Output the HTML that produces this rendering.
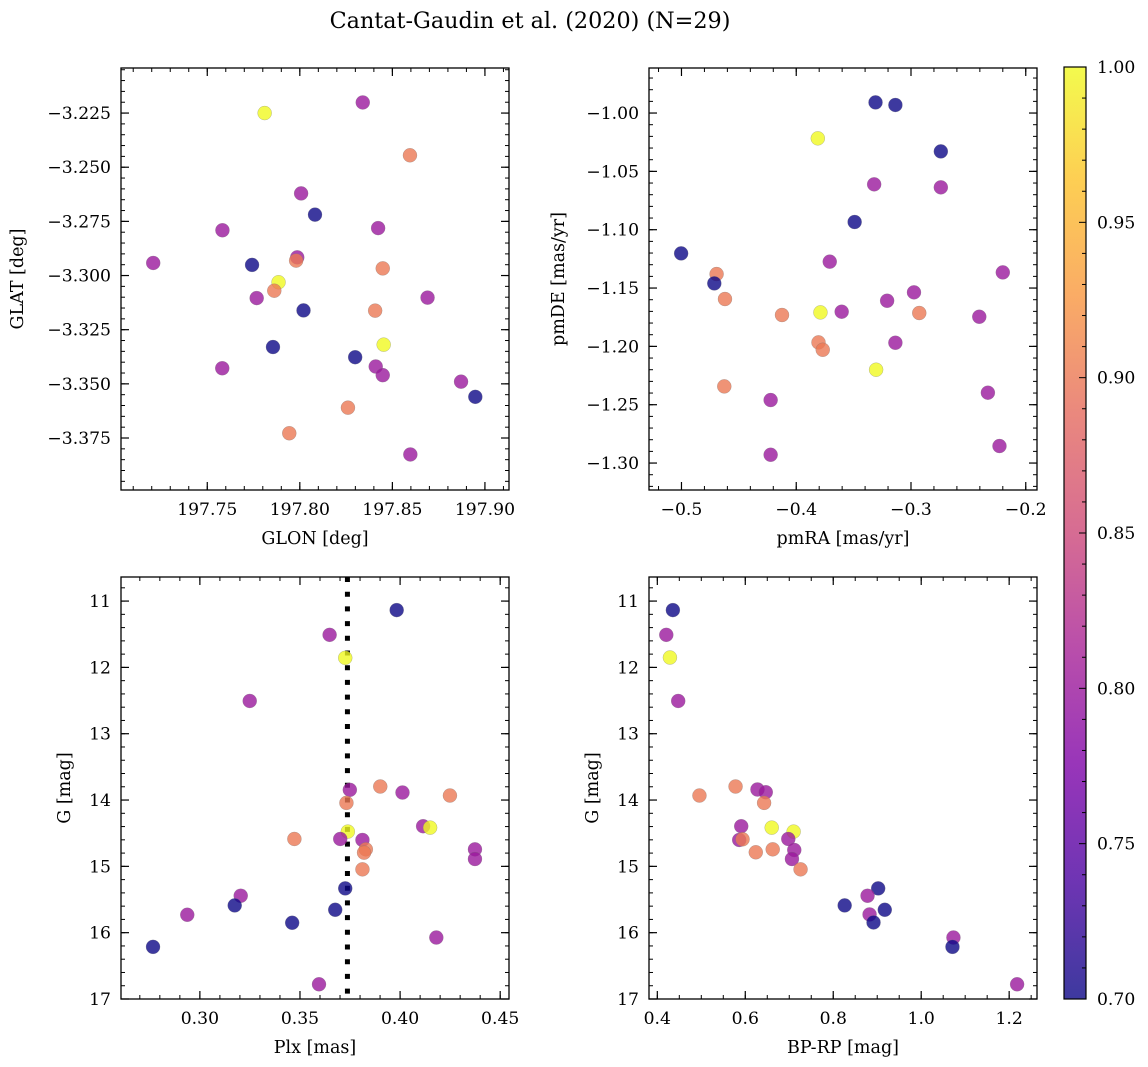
<!DOCTYPE html>
<html><head><meta charset="utf-8">
<style>
html,body{margin:0;padding:0;background:#fff;}
svg{display:block;font-family:"DejaVu Serif","Liberation Serif",serif;}
</style></head>
<body>
<svg id="fig" width="1148" height="1067" viewBox="0 0 1148 1067" xmlns="http://www.w3.org/2000/svg">
<rect x="0" y="0" width="1148" height="1067" fill="#fff"/>
<text x="530" y="28" text-anchor="middle" font-size="22.3">Cantat-Gaudin et al. (2020) (N=29)</text>
<defs>
<linearGradient id="cbgrad" x1="0" y1="1" x2="0" y2="0">
<stop offset="0" stop-color="#0d0887"/>
<stop offset="0.13" stop-color="#4c02a1"/>
<stop offset="0.25" stop-color="#7e03a8"/>
<stop offset="0.38" stop-color="#a92395"/>
<stop offset="0.5" stop-color="#cc4778"/>
<stop offset="0.63" stop-color="#e56b5d"/>
<stop offset="0.75" stop-color="#f89540"/>
<stop offset="0.88" stop-color="#fdc328"/>
<stop offset="1" stop-color="#f0f921"/>
</linearGradient>
</defs>
<g id="plots"></g>
</svg>
<script>
// ---- Panel 1: GLON vs GLAT ----
const p1Glon = [197.781,197.834,197.8595,197.8007,197.8082,197.7582,197.8423,197.7208,197.7742,197.7986,197.798,197.8448,197.7885,197.7862,197.7767,197.869,197.802,197.8407,197.7855,197.8453,197.8299,197.7581,197.841,197.8448,197.8871,197.8948,197.826,197.7943,197.8597];
const p1Glat = [-3.225,-3.2201,-3.2445,-3.2621,-3.2719,-3.2791,-3.2781,-3.2942,-3.2951,-3.2916,-3.2931,-3.2967,-3.3031,-3.307,-3.3104,-3.3102,-3.3161,-3.3162,-3.333,-3.3319,-3.3377,-3.3428,-3.342,-3.346,-3.349,-3.356,-3.361,-3.3728,-3.3826];
const p1Prob = [1.0,0.8,0.9,0.8,0.7,0.8,0.8,0.8,0.7,0.8,0.9,0.9,1.0,0.9,0.8,0.8,0.7,0.9,0.7,1.0,0.7,0.8,0.8,0.8,0.8,0.7,0.9,0.9,0.8];
const p1XTicks = [197.75,197.80,197.85,197.90];
const p1YTicks = [-3.225,-3.250,-3.275,-3.300,-3.325,-3.350,-3.375];
// ---- Panel 2: pmRA vs pmDE ----
const p2PmRA = [-0.3309,-0.3136,-0.3812,-0.274,-0.3321,-0.274,-0.3491,-0.5003,-0.3708,-0.22,-0.4694,-0.4714,-0.4621,-0.2974,-0.3208,-0.4124,-0.3789,-0.3604,-0.2928,-0.2405,-0.3806,-0.3769,-0.3136,-0.3304,-0.4627,-0.4223,-0.233,-0.2229,-0.4223];
const p2PmDE = [-0.9909,-0.9931,-1.0217,-1.0329,-1.0611,-1.0637,-1.0934,-1.1203,-1.1274,-1.1366,-1.138,-1.146,-1.1594,-1.1537,-1.1609,-1.1731,-1.1709,-1.1703,-1.1714,-1.1746,-1.1966,-1.2029,-1.1969,-1.22,-1.2343,-1.246,-1.2397,-1.2854,-1.2929];
const p2Prob = [0.7,0.7,1.0,0.7,0.8,0.8,0.7,0.7,0.8,0.8,0.9,0.7,0.9,0.8,0.8,0.9,1.0,0.8,0.9,0.8,0.9,0.9,0.8,1.0,0.9,0.8,0.8,0.8,0.8];
const p2XTicks = [-0.5,-0.4,-0.3,-0.2];
const p2YTicks = [-1.00,-1.05,-1.10,-1.15,-1.20,-1.25,-1.30];
// ---- Panel 3: Plx vs G ----
const p3Plx = [0.3983,0.3648,0.3726,0.3249,0.3749,0.3901,0.4012,0.4249,0.3732,0.4115,0.415,0.3739,0.3472,0.3701,0.3812,0.3829,0.382,0.4374,0.4374,0.3812,0.3726,0.3204,0.3174,0.3676,0.2937,0.3461,0.4181,0.2766,0.3595];
const p3G = [11.136,11.509,11.856,12.506,13.846,13.796,13.887,13.932,14.043,14.395,14.416,14.476,14.587,14.587,14.602,14.743,14.793,14.743,14.889,15.045,15.332,15.443,15.589,15.655,15.73,15.851,16.073,16.214,16.778];
const p3Prob = [0.7,0.8,1.0,0.8,0.8,0.9,0.8,0.9,0.9,0.8,1.0,1.0,0.9,0.8,0.8,0.9,0.9,0.8,0.8,0.9,0.7,0.8,0.7,0.7,0.8,0.7,0.8,0.7,0.8];
const p3XTicks = [0.30,0.35,0.40,0.45];
const p3YTicks = [11,12,13,14,15,16,17];
const p3PlxMean = [0.3737];
// ---- Panel 4: BP-RP vs G ----
const p4Color = [0.4354,0.4204,0.4287,0.4475,0.4958,0.5779,0.6277,0.6466,0.6428,0.5908,0.6601,0.7099,0.5862,0.5938,0.6978,0.6239,0.6624,0.7114,0.7061,0.7257,0.9022,0.878,0.826,0.9172,0.8826,0.8916,1.0733,1.0711,1.2181];
const p4G = [11.136,11.509,11.851,12.506,13.932,13.796,13.841,13.882,14.043,14.395,14.416,14.476,14.602,14.592,14.587,14.788,14.743,14.753,14.889,15.045,15.332,15.443,15.589,15.655,15.725,15.846,16.073,16.214,16.778];
const p4Prob = [0.7,0.8,1.0,0.8,0.9,0.9,0.8,0.8,0.9,0.8,1.0,1.0,0.8,0.9,0.8,0.9,0.9,0.8,0.8,0.9,0.7,0.8,0.7,0.7,0.8,0.7,0.8,0.7,0.8];
const p4XTicks = [0.4,0.6,0.8,1.0,1.2];
const p4YTicks = [11,12,13,14,15,16,17];
// ---- Colorbar ----
const cbTicks = [0.70,0.75,0.80,0.85,0.90,0.95,1.00];

const NS = "http://www.w3.org/2000/svg";
const root = document.getElementById('plots');
function mk(tag, attrs, parent){
  const e = document.createElementNS(NS, tag);
  for (const k in attrs) e.setAttribute(k, attrs[k]);
  (parent||root).appendChild(e);
  return e;
}
const stops = [[0,[13,8,135]],[0.13,[76,2,161]],[0.25,[126,3,168]],[0.38,[169,35,149]],[0.5,[204,71,120]],[0.63,[229,107,93]],[0.75,[248,149,64]],[0.88,[253,195,40]],[1,[240,249,33]]];
function plasma(t){
  t=Math.max(0,Math.min(1,t));
  for(let i=1;i<stops.length;i++){
    if(t<=stops[i][0]){
      const a=stops[i-1],b=stops[i],f=(t-a[0])/(b[0]-a[0]);
      const c=a[1].map((v,j)=>Math.round(v+(b[1][j]-v)*f));
      return 'rgb('+c.join(',')+')';
    }
  }
  return 'rgb(240,249,33)';
}
function fmtMinus(s){ return s.replace('-', '\u2212'); }
const TICKFS = 17.2, LABFS = 17.5;

function panel(o){
  const g = mk('g', {});
  
  
  const L=o.box[0],T=o.box[1],R=o.box[2],B=o.box[3];
  const sx = v => L + (v-o.xr[0])/(o.xr[1]-o.xr[0])*(R-L);
  const sy = o.yinv ? (v => T + (v-o.yr[0])/(o.yr[1]-o.yr[0])*(B-T)) : (v => B - (v-o.yr[0])/(o.yr[1]-o.yr[0])*(B-T));
  const mxStart = Math.ceil(o.xr[0]/o.xminor - 1e-9);
  for(let k=mxStart; k*o.xminor<=o.xr[1]+1e-9; k++){
    const x=sx(k*o.xminor);
    mk('line',{x1:x,y1:B,x2:x,y2:B-4,stroke:'#000','stroke-width':1},g);
    mk('line',{x1:x,y1:T,x2:x,y2:T+4,stroke:'#000','stroke-width':1},g);
  }
  const lo=Math.min(o.yr[0],o.yr[1]),hi=Math.max(o.yr[0],o.yr[1]);
  for(let k=Math.ceil(lo/o.yminor-1e-9); k*o.yminor<=hi+1e-9; k++){
    const y=sy(k*o.yminor);
    mk('line',{x1:L,y1:y,x2:L+4,y2:y,stroke:'#000','stroke-width':1},g);
    mk('line',{x1:R,y1:y,x2:R-4,y2:y,stroke:'#000','stroke-width':1},g);
  }
  o.xt.forEach(v=>{
    const x=sx(v);
    mk('line',{x1:x,y1:B,x2:x,y2:B-8,stroke:'#000','stroke-width':1.2},g);
    mk('line',{x1:x,y1:T,x2:x,y2:T+8,stroke:'#000','stroke-width':1.2},g);
    const t=mk('text',{x:x,y:B+25,'text-anchor':'middle','font-size':TICKFS},g);
    
    
    t.textContent=fmtMinus(v.toFixed(o.xdec));
  });
  o.yt.forEach(v=>{
    const y=sy(v);
    mk('line',{x1:L,y1:y,x2:L+8,y2:y,stroke:'#000','stroke-width':1.2},g);
    mk('line',{x1:R,y1:y,x2:R-8,y2:y,stroke:'#000','stroke-width':1.2},g);
    const t=mk('text',{x:L-10,y:y+6,'text-anchor':'end','font-size':TICKFS},g);
    
    
    t.textContent=fmtMinus(v.toFixed(o.ydec));
  });
  if(o.vline){
    o.vline.forEach(v=>{
      const ln=mk('line',{x1:sx(v),y1:T,x2:sx(v),y2:B,stroke:'#000','stroke-width':5,'stroke-dasharray':'5 9.7'},g);
      
      
    });
  }
  for(let i=0;i<o.xs.length;i++){
    const c=mk('circle',{cx:sx(o.xs[i]),cy:sy(o.ys[i]),r:7,fill:plasma((o.cs[i]-0.7)/0.3),'fill-opacity':0.8,stroke:'#777','stroke-opacity':0.5,'stroke-width':0.5},g);
    
    
  }
  const fr=mk('rect',{x:L,y:T,width:R-L,height:B-T,fill:'none',stroke:'#000','stroke-width':1.3},g);
  
  
  const xl=mk('text',{x:(L+R)/2,y:B+54,'text-anchor':'middle','font-size':LABFS},g);
  
  
  xl.textContent=o.xlabel;
  const yx=o.ylx, yy=(T+B)/2;
  const yl=mk('text',{x:yx,y:yy,'text-anchor':'middle','font-size':LABFS,transform:'rotate(-90 '+yx+' '+yy+')'},g);
  
  
  yl.textContent=o.ylabel;
}

panel({name:'glon-glat-panel',box:[121,68,509,490],xr:[197.7034,197.913],yr:[-3.399,-3.2042],xs:p1Glon,ys:p1Glat,cs:p1Prob,xt:p1XTicks,yt:p1YTicks,xminor:0.01,yminor:0.005,xdec:2,ydec:3,xlabel:'GLON [deg]',ylabel:'GLAT [deg]',ylx:23});
panel({name:'pm-panel',box:[649,68,1037,490],xr:[-0.5283,-0.1902],yr:[-1.3231,-0.9614],xs:p2PmRA,ys:p2PmDE,cs:p2Prob,xt:p2XTicks,yt:p2YTicks,xminor:0.02,yminor:0.01,xdec:1,ydec:2,xlabel:'pmRA [mas/yr]',ylabel:'pmDE [mas/yr]',ylx:564});
panel({name:'plx-g-panel',box:[121,577,509,999],xr:[0.2606,0.4544],yr:[10.637,17.0],yinv:true,xs:p3Plx,ys:p3G,cs:p3Prob,xt:p3XTicks,yt:p3YTicks,xminor:0.01,yminor:0.2,xdec:2,ydec:0,xlabel:'Plx [mas]',ylabel:'G [mag]',ylx:70,vline:p3PlxMean});
panel({name:'cmd-panel',box:[649,577,1037,999],xr:[0.3811,1.2633],yr:[10.637,17.0],yinv:true,xs:p4Color,ys:p4G,cs:p4Prob,xt:p4XTicks,yt:p4YTicks,xminor:0.05,yminor:0.2,xdec:1,ydec:0,xlabel:'BP-RP [mag]',ylabel:'G [mag]',ylx:598});

(function(){
  const g=mk('g',{});
  
  
  const L=1064,R=1086,T=67,B=999;
  const sy=v=>B-(v-0.7)/0.3*(B-T);
  mk('rect',{x:L,y:T,width:R-L,height:B-T,fill:'url(#cbgrad)','fill-opacity':0.8},g);
  for(let k=70;k<=100;k++){
    const y=sy(k/100);
    const major=(k%5===0);
    mk('line',{x1:R,y1:y,x2:R-(major?7:4),y2:y,stroke:'#000','stroke-width':1},g);
  }
  cbTicks.forEach(v=>{
    const t=mk('text',{x:R+11,y:sy(v)+6,'font-size':TICKFS},g);
    
    
    t.textContent=v.toFixed(2);
  });
  mk('rect',{x:L,y:T,width:R-L,height:B-T,fill:'none',stroke:'#000','stroke-width':1.2},g);
})();
</script>
</body></html>
